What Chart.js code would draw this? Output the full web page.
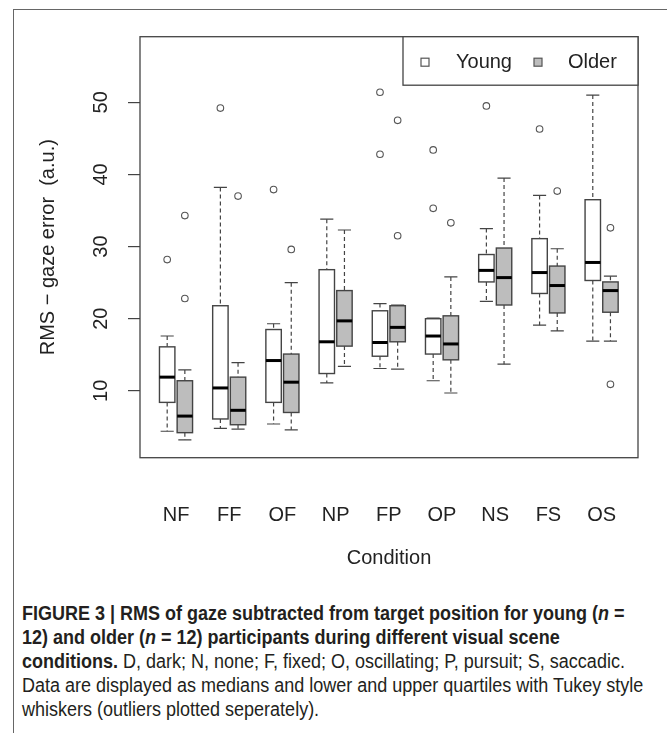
<!DOCTYPE html>
<html>
<head>
<meta charset="utf-8">
<script src="https://cdn.jsdelivr.net/npm/chart.js@4.4.1/dist/chart.umd.min.js"></script>
<style>
  body { margin: 0; background: #fff; }
  #wrap { position: relative; width: 667px; height: 733px; overflow: hidden; }
  #frame { position: absolute; left: 13px; top: 9px; width: 800px; height: 900px;
           border-left: 1.5px solid #666; border-top: 1.5px solid #666; }
  #chart { position: absolute; left: 0; top: 0; }
  #caption { position: absolute; left: 22px; top: 601px; color: #231f20;
             font-family: "Liberation Sans", Arial, sans-serif;
             font-size: 20px; line-height: 24px; white-space: nowrap;
             transform: scaleX(0.9); transform-origin: 0 0; }
</style>
</head>
<body>
<div id="wrap">
  <div id="frame"></div>
  <canvas id="chart" width="667" height="590"></canvas>
  <div id="caption">
    <div><b>FIGURE 3 | RMS of gaze subtracted from target position for young (<i>n</i> =</b></div>
    <div><b>12) and older (<i>n</i> = 12) participants during different visual scene</b></div>
    <div><b>conditions.</b> D, dark; N, none; F, fixed; O, oscillating; P, pursuit; S, saccadic.</div>
    <div>Data are displayed as medians and lower and upper quartiles with Tukey style</div>
    <div>whiskers (outliers plotted seperately).</div>
  </div>
</div>
<script>
// conditions along the x axis
const conditions = ['NF', 'FF', 'OF', 'NP', 'FP', 'OP', 'NS', 'FS', 'OS'];
const yTicks = [10, 20, 30, 40, 50];

// young participants (white boxes)
const youngLow    = [4.4, 4.8, 5.4, 11.1, 13.1, 11.4, 22.4, 19.1, 16.9];
const youngQ1     = [8.4, 6.1, 8.4, 12.4, 14.8, 15.1, 25.1, 23.5, 25.3];
const youngMedian = [11.9, 10.4, 14.2, 16.8, 16.7, 17.6, 26.7, 26.4, 27.8];
const youngQ3     = [16.1, 21.8, 18.5, 26.8, 21.1, 20.0, 28.9, 31.1, 36.5];
const youngHigh   = [17.6, 38.2, 19.3, 33.8, 22.1, 20.1, 32.5, 37.1, 51.0];
const youngOutliers = [[28.2], [49.2], [37.9], [], [51.4, 42.8], [43.4, 35.3], [49.5], [46.3], []];

// older participants (grey boxes)
const olderLow    = [3.2, 4.7, 4.6, 13.4, 13.0, 9.7, 13.7, 18.3, 16.9];
const olderQ1     = [4.2, 5.3, 7.0, 16.2, 16.8, 14.3, 21.9, 20.8, 20.9];
const olderMedian = [6.5, 7.3, 11.2, 19.7, 18.8, 16.5, 25.7, 24.6, 23.9];
const olderQ3     = [11.4, 11.9, 15.1, 23.9, 21.8, 20.4, 29.8, 27.3, 25.1];
const olderHigh   = [12.9, 13.9, 25.0, 32.3, 21.9, 25.8, 39.5, 29.7, 25.9];
const olderOutliers = [[34.3, 22.8], [37.0], [29.6], [], [47.5, 31.5], [33.3], [], [37.7], [32.6, 10.9]];

const OFFSET = 0.166;   // shift of each box from the condition centre
const BOX_W = 0.29;     // box width in x units
const OLDER_FILL = '#bdbdbd';
const LINE = '#444';

function outlierPoints(list, shift) {
  return list.flatMap((vals, i) => vals.map(v => ({ x: i + shift, y: v })));
}

// boxes, whiskers and medians drawn through the chart scales
const boxPlugin = {
  id: 'boxes',
  beforeDatasetsDraw(chart) {
    const { ctx, scales: { x, y } } = chart;
    const half = (x.getPixelForValue(BOX_W) - x.getPixelForValue(0)) / 2;
    function drawBox(i, shift, lo, q1, med, q3, hi, fill) {
      const cx = x.getPixelForValue(i + shift);
      const pLo = y.getPixelForValue(lo), pQ1 = y.getPixelForValue(q1);
      const pMed = y.getPixelForValue(med), pQ3 = y.getPixelForValue(q3);
      const pHi = y.getPixelForValue(hi);
      ctx.save();
      ctx.strokeStyle = LINE;
      ctx.lineWidth = 1.2;
      ctx.setLineDash([4, 3]);
      ctx.beginPath();
      ctx.moveTo(cx, pHi); ctx.lineTo(cx, pQ3);
      ctx.moveTo(cx, pQ1); ctx.lineTo(cx, pLo);
      ctx.stroke();
      ctx.setLineDash([]);
      ctx.beginPath();
      const cap = half * 0.85;
      ctx.moveTo(cx - cap, pHi); ctx.lineTo(cx + cap, pHi);
      ctx.moveTo(cx - cap, pLo); ctx.lineTo(cx + cap, pLo);
      ctx.stroke();
      ctx.fillStyle = fill;
      ctx.fillRect(cx - half, pQ3, half * 2, pQ1 - pQ3);
      ctx.lineWidth = 1.4;
      ctx.strokeRect(cx - half, pQ3, half * 2, pQ1 - pQ3);
      ctx.strokeStyle = '#000';
      ctx.lineWidth = 3;
      ctx.beginPath();
      ctx.moveTo(cx - half, pMed); ctx.lineTo(cx + half, pMed);
      ctx.stroke();
      ctx.restore();
    }
    conditions.forEach((c, i) => {
      drawBox(i, -OFFSET, youngLow[i], youngQ1[i], youngMedian[i], youngQ3[i], youngHigh[i], '#fff');
      drawBox(i, OFFSET, olderLow[i], olderQ1[i], olderMedian[i], olderQ3[i], olderHigh[i], OLDER_FILL);
    });
  },
  afterDraw(chart) {
    const { ctx, chartArea: a } = chart;
    ctx.save();
    ctx.strokeStyle = LINE;
    ctx.lineWidth = 1.3;
    ctx.strokeRect(a.left, a.top, a.right - a.left, a.bottom - a.top);
    // legend in the top right corner of the plot
    const lw = 235, lh = 48.5, lx = a.right - lw, ly = a.top;
    ctx.fillStyle = '#fff';
    ctx.fillRect(lx, ly, lw, lh);
    ctx.strokeRect(lx, ly, lw, lh);
    ctx.lineWidth = 1.2;
    ctx.strokeStyle = '#555';
    ctx.fillStyle = '#fff';
    ctx.fillRect(lx + 18, ly + 21.5, 8, 8);
    ctx.strokeRect(lx + 18, ly + 21.5, 8, 8);
    ctx.fillStyle = OLDER_FILL;
    ctx.fillRect(lx + 131, ly + 21.5, 8, 8);
    ctx.strokeRect(lx + 131, ly + 21.5, 8, 8);
    ctx.fillStyle = '#222';
    ctx.font = '20px "Liberation Sans", Arial, sans-serif';
    ctx.textBaseline = 'middle';
    ctx.fillText('Young', lx + 53, ly + 26);
    ctx.fillText('Older', lx + 165, ly + 26);
    ctx.restore();
  }
};

const font = { family: '"Liberation Sans", Arial, sans-serif', size: 20 };

new Chart(document.getElementById('chart'), {
  type: 'scatter',
  data: {
    datasets: [
      { label: 'Young', data: outlierPoints(youngOutliers, -OFFSET) },
      { label: 'Older', data: outlierPoints(olderOutliers, OFFSET) }
    ]
  },
  options: {
    responsive: false,
    animation: false,
    layout: { padding: { top: 36.7, right: 29, bottom: 0, left: 0 } },
    elements: {
      point: { radius: 3.3, borderWidth: 1.1, borderColor: '#555', backgroundColor: 'rgba(0,0,0,0)' }
    },
    plugins: { legend: { display: false }, tooltip: { enabled: false } },
    scales: {
      x: {
        type: 'linear',
        min: -0.677,
        max: 8.684,
        afterBuildTicks: s => { s.ticks = conditions.map((c, i) => ({ value: i })); },
        afterFit: s => { s.height = 132.3; },
        grid: { display: false },
        border: { display: false },
        ticks: {
          autoSkip: false, maxRotation: 0, padding: 38, color: '#222', font,
          callback: v => conditions[v]
        },
        title: { display: true, text: 'Condition', color: '#222', font, padding: { top: 0, bottom: 20 } }
      },
      y: {
        type: 'linear',
        min: 0.73,
        max: 59.1,
        afterBuildTicks: s => { s.ticks = yTicks.map(v => ({ value: v })); },
        afterFit: s => { s.width = 140; },
        grid: { drawOnChartArea: false, drawTicks: true, tickLength: 12, color: LINE, lineWidth: 1.2 },
        border: { display: false },
        ticks: {
          minRotation: 90, maxRotation: 90, crossAlign: 'center', padding: 15, color: '#222', font
        },
        title: { display: true, text: 'RMS \u2212 gaze error  (a.u.)', color: '#222', font, padding: { top: 36, bottom: 0 } }
      }
    }
  },
  plugins: [boxPlugin]
});
</script>
</body>
</html>
